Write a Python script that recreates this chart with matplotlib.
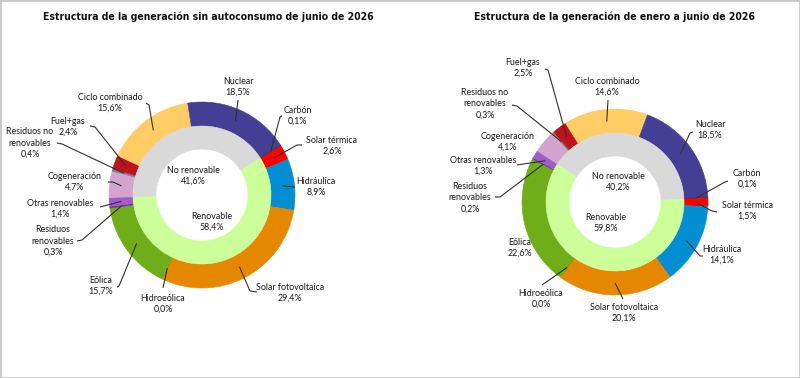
import numpy as np
import matplotlib
matplotlib.use("Agg")
import matplotlib.pyplot as plt
from matplotlib import font_manager
from matplotlib.patches import Rectangle

# ---------------- data ----------------
categories = ['Cogeneración', 'Residuos no renovables', 'Fuel+gas', 'Ciclo combinado',
              'Nuclear', 'Carbón', 'Solar térmica', 'Hidráulica', 'Solar fotovoltaica',
              'Hidroeólica', 'Eólica', 'Residuos renovables', 'Otras renovables']
label_names = ['Cogeneración', 'Residuos no\nrenovables', 'Fuel+gas', 'Ciclo combinado',
               'Nuclear', 'Carbón', 'Solar térmica', 'Hidráulica', 'Solar fotovoltaica',
               'Hidroeólica', 'Eólica', 'Residuos\nrenovables', 'Otras renovables']
junio_values = [4.7, 0.4, 2.4, 15.6, 18.5, 0.1, 2.6, 8.9, 29.4, 0.0, 15.7, 0.3, 1.4]
acum_values = [4.1, 0.3, 2.5, 14.6, 18.5, 0.1, 1.5, 14.1, 20.1, 0.0, 22.6, 0.2, 1.3]
groups = ['No renovable', 'Renovable']
junio_groups = [41.6, 58.4]
acum_groups = [40.2, 59.8]
titles = ['Estructura de la generación sin autoconsumo de junio de 2026',
          'Estructura de la generación de enero a junio de 2026']

# ---------------- style ----------------
colors = ['#D2A4CE', '#808080', '#C0111C', '#FFCC66', '#443F94', '#3A3A3A', '#FF0000',
          '#038ED1', '#E68700', '#2E75B6', '#6FAE18', '#7030A0', '#A05CC8']
group_colors = ['#D9D9D9', '#CCFF99']

W, H = 800, 378
fig = plt.figure(figsize=(8.0, 3.78), dpi=100)
ax = fig.add_axes([0, 0, 1, 1])

names = {f.name for f in font_manager.fontManager.ttflist}
label_font = 'Lato' if 'Lato' in names else 'DejaVu Sans'
if 'Liberation Sans Narrow' in names:
    title_kw = dict(family='Liberation Sans Narrow', fontweight='bold', fontsize=8.3)
else:
    title_kw = dict(family='DejaVu Sans', fontstretch='condensed', fontweight='bold', fontsize=7.45)

TXT = '#1a1a1a'
LINE = '#303030'
FS = 6.4
LS = 1.3


def fmt(v):
    return f"{v:.1f}".replace('.', ',') + '%'


def Y(py):
    return H - py


# layout (pixel coords, y from top)
charts = [
    dict(center=(202, 195), start=182, values=junio_values, gvalues=junio_groups, title_x=208,
         labels={
             'Nuclear': ((238, 87), [(238, 100)]),
             'Ciclo combinado': ((110, 103), [(146, 103), (149, 105)]),
             'Carbón': ((298, 116), [(282, 116), (280, 117)]),
             'Fuel+gas': ((68, 127), [(90, 126), (95, 127)]),
             'Residuos no renovables': ((30, 143), [(57, 143), (62, 144)]),
             'Solar térmica': ((332, 146), [(302, 145), (297, 145)]),
             'Cogeneración': ((75, 182), [(108, 182), (113, 182)]),
             'Hidráulica': ((316, 187), [(295, 187)]),
             'Otras renovables': ((60, 209), [(100, 207)]),
             'Residuos renovables': ((53, 241), [(77, 241), (82, 240)]),
             'Eólica': ((101, 286), [(117, 287), (119, 286)]),
             'Solar fotovoltaica': ((290, 293), [(257, 292), (250, 291)]),
             'Hidroeólica': ((163, 304), [(163, 288)]),
         },
         inner_pos=[(193, 176), (212, 222)]),
    dict(center=(615, 202), start=147, values=acum_values, gvalues=acum_groups, title_x=614,
         labels={
             'Fuel+gas': ((523, 68), [(545, 69), (548, 70)]),
             'Ciclo combinado': ((607, 87), [(608, 100)]),
             'Residuos no renovables': ((485, 104), [(512, 105), (517, 106)]),
             'Nuclear': ((710, 130), [(693, 132), (690, 133)]),
             'Cogeneración': ((508, 142), None),
             'Otras renovables': ((483, 166), [(517, 165)]),
             'Carbón': ((747, 179), [(728, 181), (725, 182)]),
             'Residuos renovables': ((470, 198), [(495, 197), (500, 197)]),
             'Solar térmica': ((747, 211), [(717, 212), (712, 211)]),
             'Eólica': ((520, 248), None),
             'Hidráulica': ((722, 255), [(703, 256), (700, 256)]),
             'Hidroeólica': ((541, 299), [(542, 285)]),
             'Solar fotovoltaica': ((624, 313), [(623, 299)]),
         },
         inner_pos=[(618, 182), (606, 223)]),
]

R_OUT, W_OUT = 93, 24
R_IN, W_IN = 69, 23

for ch in charts:
    cx, cy = ch['center']
    c = (cx, Y(cy))
    wedges_o, _ = ax.pie(ch['values'], colors=colors, startangle=ch['start'], counterclock=False,
                         radius=R_OUT, center=c, wedgeprops=dict(width=W_OUT, linewidth=0.4))
    wedges_i, _ = ax.pie(ch['gvalues'], colors=group_colors, startangle=ch['start'], counterclock=False,
                         radius=R_IN, center=c, wedgeprops=dict(width=W_IN, linewidth=0.4))
    for w in list(wedges_o) + list(wedges_i):
        w.set_edgecolor(w.get_facecolor())

    # labels with leader lines
    for k, cat in enumerate(categories):
        (tx, ty), pts = ch['labels'][cat]
        ax.text(tx, Y(ty), f"{label_names[k]}\n{fmt(ch['values'][k])}", ha='center', va='center',
                fontsize=FS, family=label_font, color=TXT, linespacing=LS)
        if pts:
            w = wedges_o[k]
            mid = np.deg2rad((w.theta1 + w.theta2) / 2)
            rm = R_OUT - W_OUT / 2
            ax_, ay_ = c[0] + rm * np.cos(mid), c[1] + rm * np.sin(mid)
            xs = [p[0] for p in pts] + [ax_]
            ys = [Y(p[1]) for p in pts] + [ay_]
            ax.plot(xs, ys, color=LINE, lw=0.8, solid_capstyle='butt')

    for g, (gx, gy) in enumerate(ch['inner_pos']):
        ax.text(gx, Y(gy), f"{groups[g]}\n{fmt(ch['gvalues'][g])}", ha='center', va='center',
                fontsize=FS, family=label_font, color=TXT, linespacing=LS)

for ch, t in zip(charts, titles):
    ax.text(ch['title_x'], Y(17), t, ha='center', va='center', color='#111111', **title_kw)

ax.set_xlim(0, W)
ax.set_ylim(0, H)
ax.set_aspect('equal')
ax.axis('off')
fig.patches.append(Rectangle((0, 0), 1, 1, transform=fig.transFigure, fill=False,
                             edgecolor='#C8C8C8', linewidth=2.0))
fig.savefig('out.png', dpi=100, facecolor='white')
